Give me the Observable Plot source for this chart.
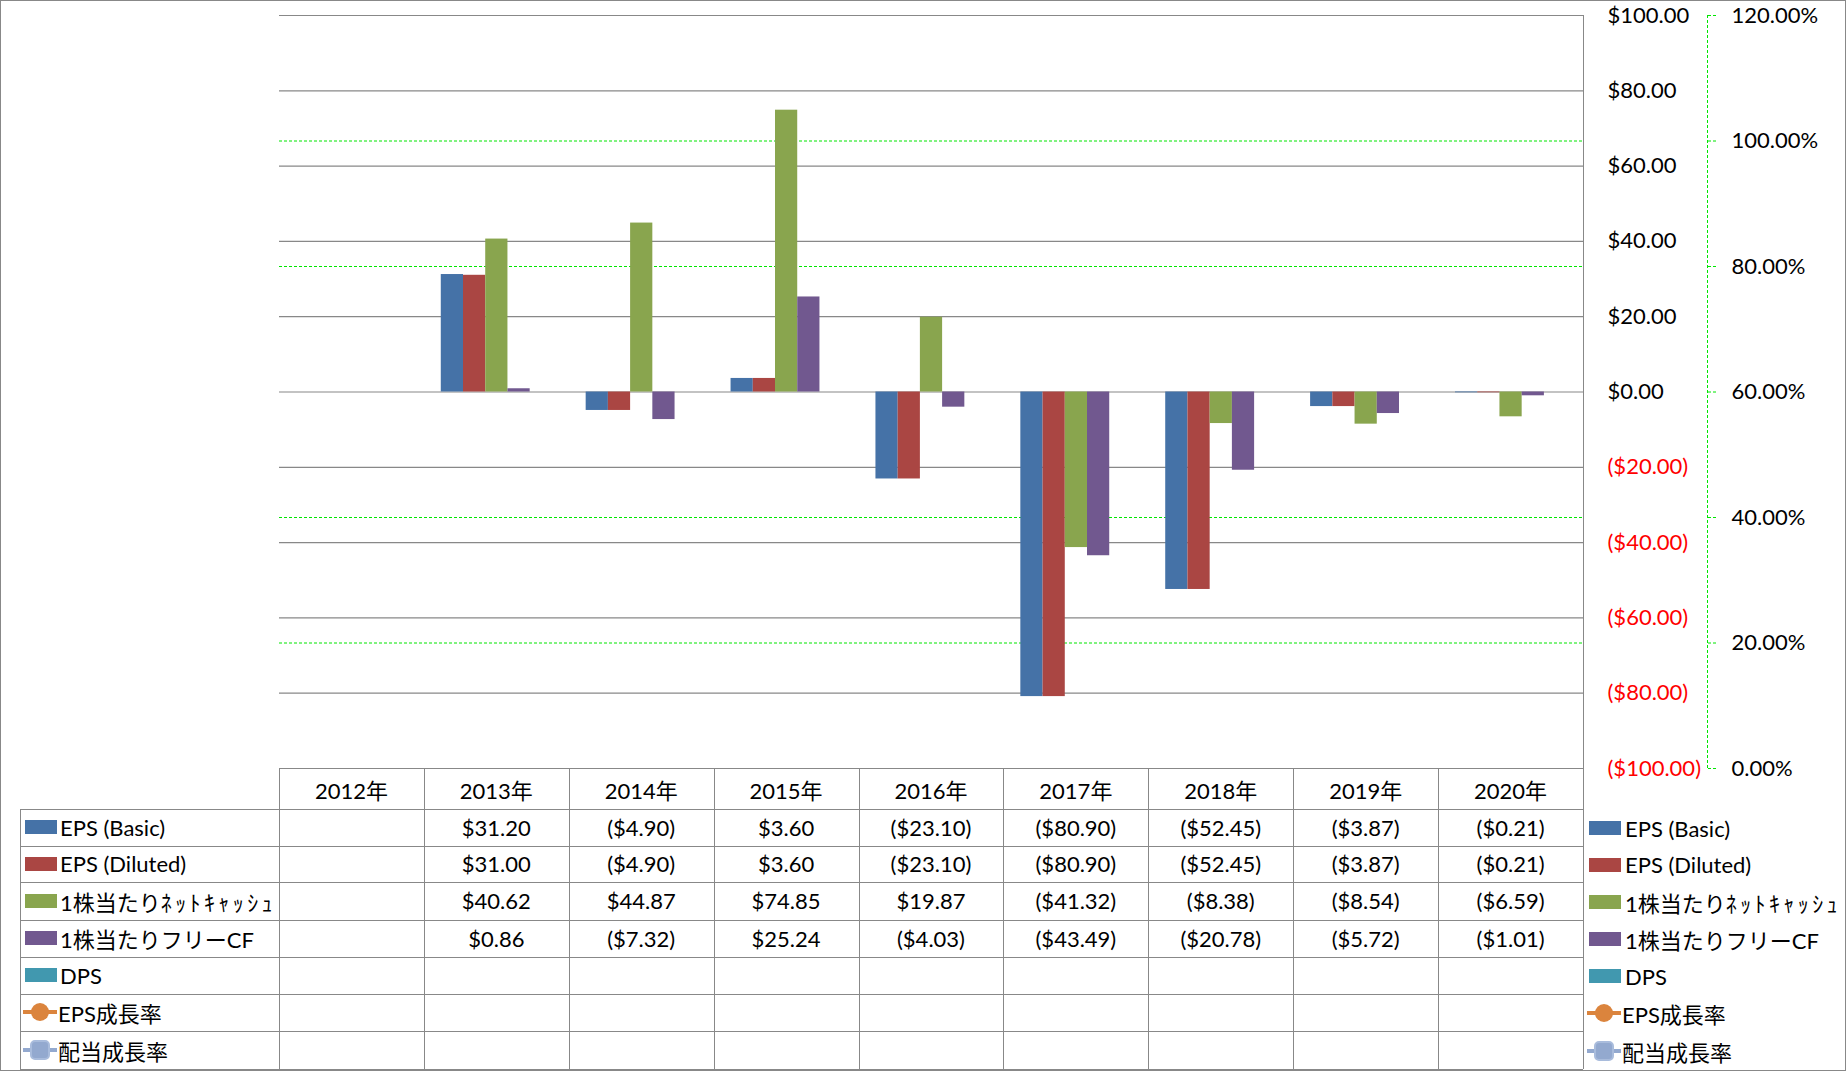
<!DOCTYPE html>
<html><head><meta charset="utf-8">
<script src="https://cdn.jsdelivr.net/npm/d3@7"></script>
<script src="https://cdn.jsdelivr.net/npm/@observablehq/plot@0.6"></script>
<style>
body{margin:0;background:#fff;}
#wrap{position:relative;width:1846px;height:1071px;overflow:hidden;font-family:Lato,"Noto Sans CJK JP",sans-serif;font-size:22px;color:#000;background:#fff;}
#wrap svg.plt{position:absolute;left:0;top:0;}
.hl{position:absolute;height:0;border-top:1px solid #888;}
.vl{position:absolute;width:0;border-left:1px solid #888;}
.cell{position:absolute;display:flex;align-items:center;justify-content:center;white-space:nowrap;}
.leg{position:absolute;display:flex;align-items:center;white-space:nowrap;}
.hw{letter-spacing:3.4px;}
.frame{position:absolute;left:0;top:0;width:1846px;height:1071px;box-sizing:border-box;border:1px solid #888;pointer-events:none;}
</style></head><body><div id="wrap"></div>
<script>
// ---- data ----
const years = ["2012年","2013年","2014年","2015年","2016年","2017年","2018年","2019年","2020年"];
const seriesNames = ["EPS (Basic)","EPS (Diluted)","1株当たりﾈｯﾄｷｬｯｼｭ","1株当たりフリーCF","DPS","EPS成長率","配当成長率"];
const seriesColors = ["#4572A7","#AA4643","#89A54E","#71588F","#4198AF","#DB843D","#93A9CF"];
const seriesKinds = ["bar","bar","bar","bar","bar","line","line"];
const epsBasic        = [null, 31.20, -4.90,  3.60, -23.10, -80.90, -52.45, -3.87, -0.21];
const epsDiluted      = [null, 31.00, -4.90,  3.60, -23.10, -80.90, -52.45, -3.87, -0.21];
const netCashPerShare = [null, 40.62, 44.87, 74.85,  19.87, -41.32,  -8.38, -8.54, -6.59];
const freeCFPerShare  = [null,  0.86, -7.32, 25.24,  -4.03, -43.49, -20.78, -5.72, -1.01];
const dps             = [null, null, null, null, null, null, null, null, null];
const epsGrowth       = [null, null, null, null, null, null, null, null, null];
const divGrowth       = [null, null, null, null, null, null, null, null, null];
const seriesValues = [epsBasic, epsDiluted, netCashPerShare, freeCFPerShare, dps, epsGrowth, divGrowth];
const dollarTicks = [100, 80, 60, 40, 20, 0, -20, -40, -60, -80, -100];
const pctTicks = [0, 0.2, 0.4, 0.6, 0.8, 1.0, 1.2];

// ---- derived ----
const barSeries = seriesNames.filter((s, i) => seriesKinds[i] === "bar");
const barData = [];
seriesNames.forEach((s, i) => {
  if (seriesKinds[i] !== "bar") return;
  seriesValues[i].forEach((v, j) => { if (v != null) barData.push({year: years[j], series: s, value: v}); });
});
const fmtDollar = d => d < 0 ? `($${(-d).toFixed(2)})` : `$${d.toFixed(2)}`;
const FONT = 'Lato, "Noto Sans CJK JP", sans-serif';
const GREEN = "#00e600";
const GRID = "#888888";

const W = 1846, H = 768, MT = 15, MB = 0, ML = 279, MR = 263;

// background layer: green % grid and secondary percent axis
const pctChart = Plot.plot({
  width: W, height: H, marginTop: MT, marginBottom: MB, marginLeft: ML, marginRight: MR,
  className: "plt",
  style: {background: "transparent", overflow: "visible", fontFamily: FONT, fontSize: "22px"},
  x: {domain: [0, 1], axis: null},
  y: {domain: [0, 1.2], axis: null},
  marks: [
    // the 0%, 60% and 120% lines sit under the gray $ gridlines
    Plot.ruleY(pctTicks.filter(p => p > 0 && p < 1.2 && Math.abs(p - 0.6) > 1e-9), {stroke: GREEN, strokeDasharray: "3,2"}),
    Plot.ruleX([1], {dx: 124, stroke: GREEN, strokeDasharray: "3,2"}),
    Plot.axisY(pctTicks, {anchor: "right", dx: 124, tickSize: 8, tickPadding: 16, label: null,
      tickFormat: d3.format(".2%"), stroke: GREEN, strokeDasharray: "3,2", fill: "#000", fontSize: 22})
  ]
});

// gray $ gridlines (not faceted, so they span the empty 2012 column too)
const gridChart = Plot.plot({
  width: W, height: H, marginTop: MT, marginBottom: MB, marginLeft: ML, marginRight: MR,
  className: "plt",
  style: {background: "transparent", overflow: "visible"},
  x: {domain: [0, 1], axis: null},
  y: {domain: [-100, 100], axis: null},
  marks: [Plot.ruleY(dollarTicks, {stroke: GRID, strokeWidth: 1.2})]
});

// main chart: bars + primary $ axis
const chart = Plot.plot({
  width: W, height: H, marginTop: MT, marginBottom: MB, marginLeft: ML, marginRight: MR,
  className: "plt",
  style: {background: "transparent", overflow: "visible", fontFamily: FONT, fontSize: "22px"},
  fx: {domain: years, padding: 0, round: false, axis: null},
  x: {domain: barSeries, paddingInner: 0, paddingOuter: 0.76, round: false, axis: null},
  y: {domain: [-100, 100], axis: null},
  color: {domain: seriesNames, range: seriesColors},
  marks: [
    Plot.barY(barData, {fx: "year", x: "series", y: "value", fill: "series", inset: 0}),
    Plot.axisY(dollarTicks.filter(d => d >= 0), {anchor: "right", tickSize: 0, tickPadding: 24, label: null,
      tickFormat: fmtDollar, fill: "#000", fontSize: 22}),
    Plot.axisY(dollarTicks.filter(d => d < 0), {anchor: "right", tickSize: 0, tickPadding: 24, label: null,
      tickFormat: fmtDollar, fill: "#ff0000", fontSize: 22})
  ]
});

const wrap = document.getElementById("wrap");
wrap.appendChild(pctChart);
wrap.appendChild(gridChart);
wrap.appendChild(chart);

// ---- data table below chart ----
let fxs = null;
try { fxs = chart.scale("fx"); } catch (e) {}
let colX, bw;
if (fxs && fxs.apply && fxs.bandwidth) {
  colX = years.map(y => fxs.apply(y)); bw = fxs.bandwidth;
} else {
  const b = d3.scaleBand().domain(years).range([ML, W - MR]).padding(0);
  colX = years.map(y => b(y)); bw = b.bandwidth();
}
const tableLeft = 20, tableRight = colX[colX.length - 1] + bw;
const rowY = [768, 809, 845.5, 882, 919.5, 957, 993.5, 1031, 1069];

function add(cls, css, html) {
  const d = document.createElement("div");
  d.className = cls;
  Object.assign(d.style, css);
  if (html != null) d.innerHTML = html;
  wrap.appendChild(d);
  return d;
}
// horizontal lines
add("hl", {left: colX[0] + "px", top: rowY[0] + "px", width: (tableRight - colX[0]) + "px"});
for (let r = 1; r < rowY.length; r++) add("hl", {left: tableLeft + "px", top: rowY[r] + "px", width: (tableRight - tableLeft) + "px"});
// vertical lines
add("vl", {left: tableLeft + "px", top: rowY[1] + "px", height: (rowY[8] - rowY[1]) + "px"});
colX.forEach(x => add("vl", {left: x + "px", top: rowY[0] + "px", height: (rowY[8] - rowY[0]) + "px"}));
add("vl", {left: tableRight + "px", top: 15 + "px", height: (rowY[8] - 15) + "px"});

// header
years.forEach((y, j) => add("cell", {left: colX[j] + "px", top: rowY[0] + "px", width: bw + "px", height: (rowY[1] - rowY[0]) + "px"}, y));

function label(s) {
  return s.replace(/([\uFF61-\uFF9F]+)/g, '<span class="hw">$1</span>');
}
function swatch(i) {
  const c = seriesColors[i];
  if (seriesKinds[i] === "bar") return `<svg width="32" height="14" style="display:block"><rect width="32" height="14" fill="${c}"/></svg>`;
  const marker = i === 5
    ? `<circle cx="17" cy="11" r="9" fill="${c}"/>`
    : `<rect x="8" y="2" width="18" height="18" rx="4" fill="${c}" stroke="#a9bcdc" stroke-width="2"/>`;
  return `<svg width="34" height="22" style="display:block"><line x1="0" y1="11" x2="34" y2="11" stroke="${c}" stroke-width="4"/>${marker}</svg>`;
}

seriesNames.forEach((s, i) => {
  const top = rowY[i + 1], h = rowY[i + 2] - rowY[i + 1];
  const isBar = seriesKinds[i] === "bar";
  // left legend label
  add("leg", {left: (tableLeft + (isBar ? 5 : 3)) + "px", top: top + "px", height: h + "px", gap: isBar ? "3px" : "1px"},
      swatch(i) + `<span>${label(s)}</span>`);
  // values
  seriesValues[i].forEach((v, j) => {
    if (v == null) return;
    add("cell", {left: colX[j] + "px", top: top + "px", width: bw + "px", height: h + "px"}, fmtDollar(v));
  });
  // right legend
  add("leg", {left: (tableRight + (isBar ? 6 : 4)) + "px", top: (top + 1) + "px", height: h + "px", gap: isBar ? "4px" : "1px"},
      swatch(i) + `<span>${label(s)}</span>`);
});

add("frame", {});
</script>
</body></html>
